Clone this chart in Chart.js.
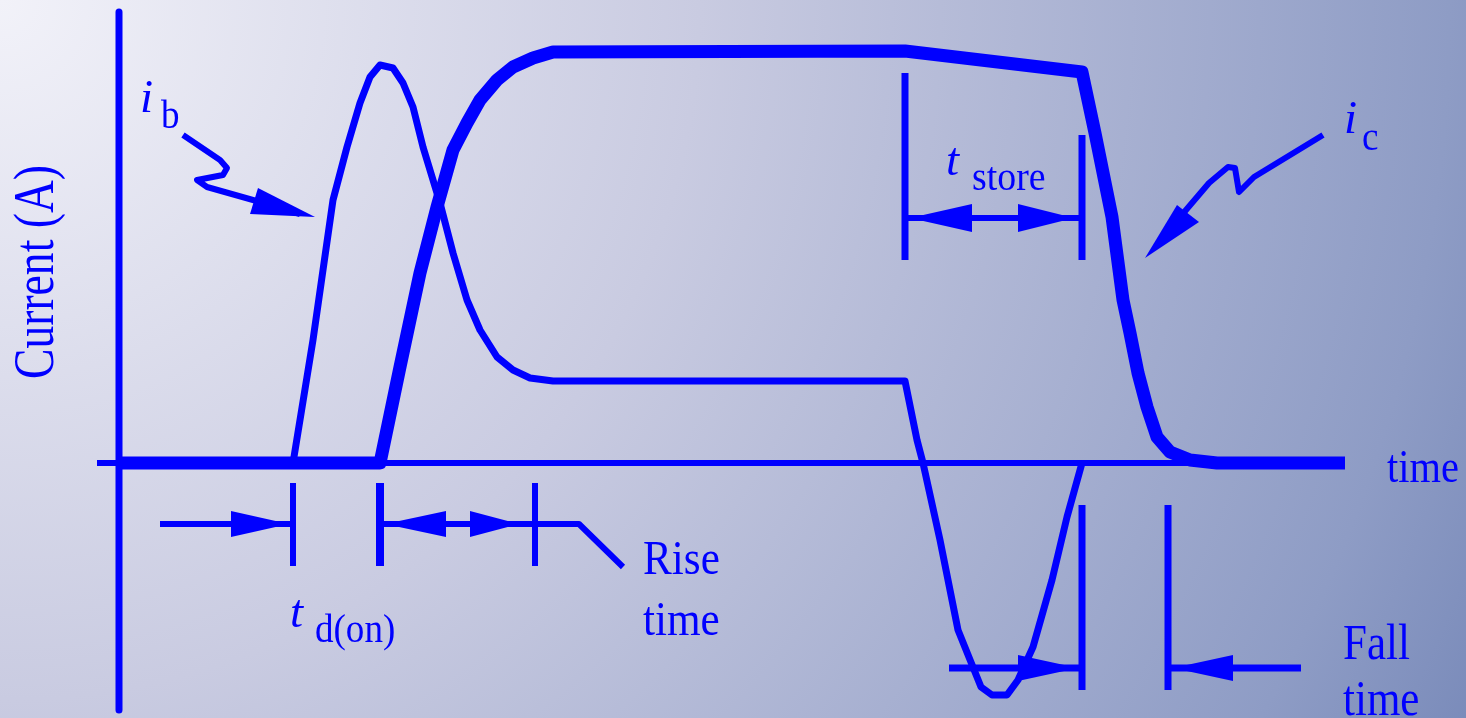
<!DOCTYPE html>
<html>
<head>
<meta charset="utf-8">
<script src="https://cdn.jsdelivr.net/npm/chart.js@4/dist/chart.umd.min.js"></script>
<style>
  html, body { margin: 0; padding: 0; }
  body {
    width: 1466px; height: 718px; overflow: hidden;
    background: radial-gradient(circle at 0 0, #f2f2f9 0px, #c9cbe1 700px, #8e9cc5 1450px, #7a8bba 1640px);
  }
  #wrap { position: relative; width: 1466px; height: 718px; }
</style>
</head>
<body>
<div id="wrap"><canvas id="switchChart"></canvas></div>
<script>
// base current i_b (time, current)
const ibTime    = [118, 293, 313, 333, 347, 360, 370, 380, 393, 403, 413, 423, 440, 453, 467, 480, 497, 513, 530, 553, 905, 917, 923, 940, 958, 981, 992, 1007, 1018, 1033, 1052, 1067, 1082];
const ibCurrent = [0, 0, 123, 263, 316, 360, 386, 398, 395, 380, 356, 316, 260, 210, 163, 133, 106, 93, 85, 82, 82, 23, 0, -77, -167, -224, -232, -232, -217, -184, -117, -54, 0];

// collector current i_c
const icTime    = [118, 380, 400, 420, 437, 453, 467, 480, 497, 513, 533, 553, 905, 1082, 1095, 1112, 1123, 1130, 1138, 1147, 1157, 1170, 1190, 1217, 1345];
const icCurrent = [0, 0, 96, 190, 256, 313, 340, 363, 383, 396, 405, 411, 412, 391, 330, 246, 163, 130, 90, 56, 26, 11, 3, 0, 0];

// axes of the sketch
const timeAxis    = [97, 1345];
const currentAxis = [451, -247];

// interval markers (time values)
const delayMarks = [293, 380, 535];
const storeMarks = [905, 1082];
const fallMarks  = [1082, 1168];

// pointer arrows for the labels (time, current)
const ibPointerT = [183, 220, 227, 223, 197, 207, 253, 300];
const ibPointerI = [328, 303, 295, 288, 283, 276, 263, 249];
const icPointerT = [1323, 1254, 1239, 1235, 1228, 1209, 1186, 1160];
const icPointerI = [328, 286, 271, 295, 296, 280, 253, 222];

const BLUE = '#0000ff';

function pts(xs, ys) {
    return xs.map((x, i) => ({x: x, y: ys[i]}));
}

function lineSet(data, width) {
    return {
        data: data,
        borderColor: BLUE,
        borderWidth: width,
        pointRadius: 0,
        tension: 0,
        fill: false,
        clip: false,
        borderJoinStyle: 'round',
        borderCapStyle: 'butt'
    };
}

const annotations = {
    id: 'annotations',
    afterDatasetsDraw(chart) {
        const ctx = chart.ctx;
        const xs = chart.scales.x, ys = chart.scales.y;
        const X = v => xs.getPixelForValue(v);
        const Y = v => ys.getPixelForValue(v);

        ctx.save();
        ctx.strokeStyle = BLUE;
        ctx.fillStyle = BLUE;
        ctx.lineCap = 'butt';
        ctx.lineJoin = 'round';

        function poly(tArr, iArr, w) {
            ctx.lineWidth = w;
            ctx.beginPath();
            tArr.forEach((t, k) => k ? ctx.lineTo(X(t), Y(iArr[k])) : ctx.moveTo(X(t), Y(iArr[k])));
            ctx.stroke();
        }
        function bar(t, i0, i1, w) { poly([t, t], [i0, i1], w); }
        // arrowhead: tip at (t, i), base at time tb
        function head(t, i, tb, half) {
            ctx.beginPath();
            ctx.moveTo(X(t), Y(i));
            ctx.lineTo(X(tb), Y(i) - half);
            ctx.lineTo(X(tb), Y(i) + half);
            ctx.closePath();
            ctx.fill();
        }
        function tri(a, b, c) {
            ctx.beginPath();
            ctx.moveTo(X(a[0]), Y(a[1]));
            ctx.lineTo(X(b[0]), Y(b[1]));
            ctx.lineTo(X(c[0]), Y(c[1]));
            ctx.closePath();
            ctx.fill();
        }

        // t d(on) and rise time
        const dY = -61;
        delayMarks.forEach((t, k) => bar(t, -20, -103, k === 1 ? 8 : 6));
        poly([160, delayMarks[0]], [dY, dY], 6);
        head(289, dY, 231, 13);
        poly([delayMarks[1], 579, 623], [dY, dY, -104], 6);
        head(385, dY, 446, 13);
        head(519, dY, 470, 13);

        // t store
        const sY = 245;
        bar(storeMarks[0], 390, 203, 7);
        bar(storeMarks[1], 328, 203, 7);
        poly(storeMarks, [sY, sY], 6);
        head(910, sY, 972, 14);
        head(1074, sY, 1018, 14);

        // fall time
        const fY = -205;
        bar(fallMarks[0], -42, -227, 7);
        bar(fallMarks[1], -42, -227, 7);
        poly([949, fallMarks[0]], [fY, fY], 7);
        head(1078, fY, 1018, 13);
        poly([fallMarks[1], 1301], [fY, fY], 7);
        head(1173, fY, 1233, 13);

        // pointers
        poly(ibPointerT, ibPointerI, 6);
        tri([258, 275], [250, 249], [315, 246]);
        poly(icPointerT, icPointerI, 6);
        tri([1177, 258], [1199, 241], [1145, 205]);

        // text
        function text(str, t, i, size, italic, sx) {
            ctx.save();
            ctx.font = (italic ? 'italic ' : '') + size + 'px "Liberation Serif", "Times New Roman", serif';
            ctx.textBaseline = 'alphabetic';
            ctx.textAlign = 'left';
            ctx.translate(X(t), Y(i));
            ctx.scale(sx, 1);
            ctx.fillText(str, 0, 0);
            ctx.restore();
        }
        text('i', 140, 351, 47, true, 1);
        text('b', 161, 335, 39, false, 0.95);
        text('i', 1344, 330, 47, true, 1);
        text('c', 1362, 313, 39, false, 0.95);
        text('t', 946, 288, 47, true, 1);
        text('store', 972, 273, 39, false, 0.97);
        text('t', 290, -164, 47, true, 1);
        text('d(on)', 315, -179, 39, false, 0.95);
        text('Rise', 643, -111, 48, false, 0.9);
        text('time', 643, -172, 48, false, 0.9);
        text('Fall', 1343, -196, 50, false, 0.86);
        text('time', 1343, -252, 50, false, 0.86);
        text('time', 1387, -19, 47, false, 0.86);

        // rotated axis title
        ctx.save();
        ctx.font = '57px "Liberation Serif", "Times New Roman", serif';
        ctx.textAlign = 'center';
        ctx.textBaseline = 'alphabetic';
        ctx.translate(X(0) + 53, Y(191));
        ctx.rotate(-Math.PI / 2);
        ctx.scale(0.8, 1);
        ctx.fillText('Current (A)', 0, 0);
        ctx.restore();

        ctx.restore();
    }
};

const ctx = document.getElementById('switchChart');
new Chart(ctx, {
    type: 'line',
    data: {
        datasets: [
            lineSet(pts(timeAxis, [0, 0]), 6),
            lineSet(pts([119, 119], currentAxis), 7),
            lineSet(pts(ibTime, ibCurrent), 7),
            lineSet(pts(icTime, icCurrent), 13)
        ]
    },
    options: {
        responsive: true,
        maintainAspectRatio: false,
        animation: false,
        layout: { padding: 0 },
        plugins: { legend: { display: false }, tooltip: { enabled: false } },
        scales: {
            x: { type: 'linear', min: 0, max: 1466, display: false },
            y: { type: 'linear', min: -255, max: 463, display: false }
        }
    },
    plugins: [annotations]
});
</script>
</body>
</html>
